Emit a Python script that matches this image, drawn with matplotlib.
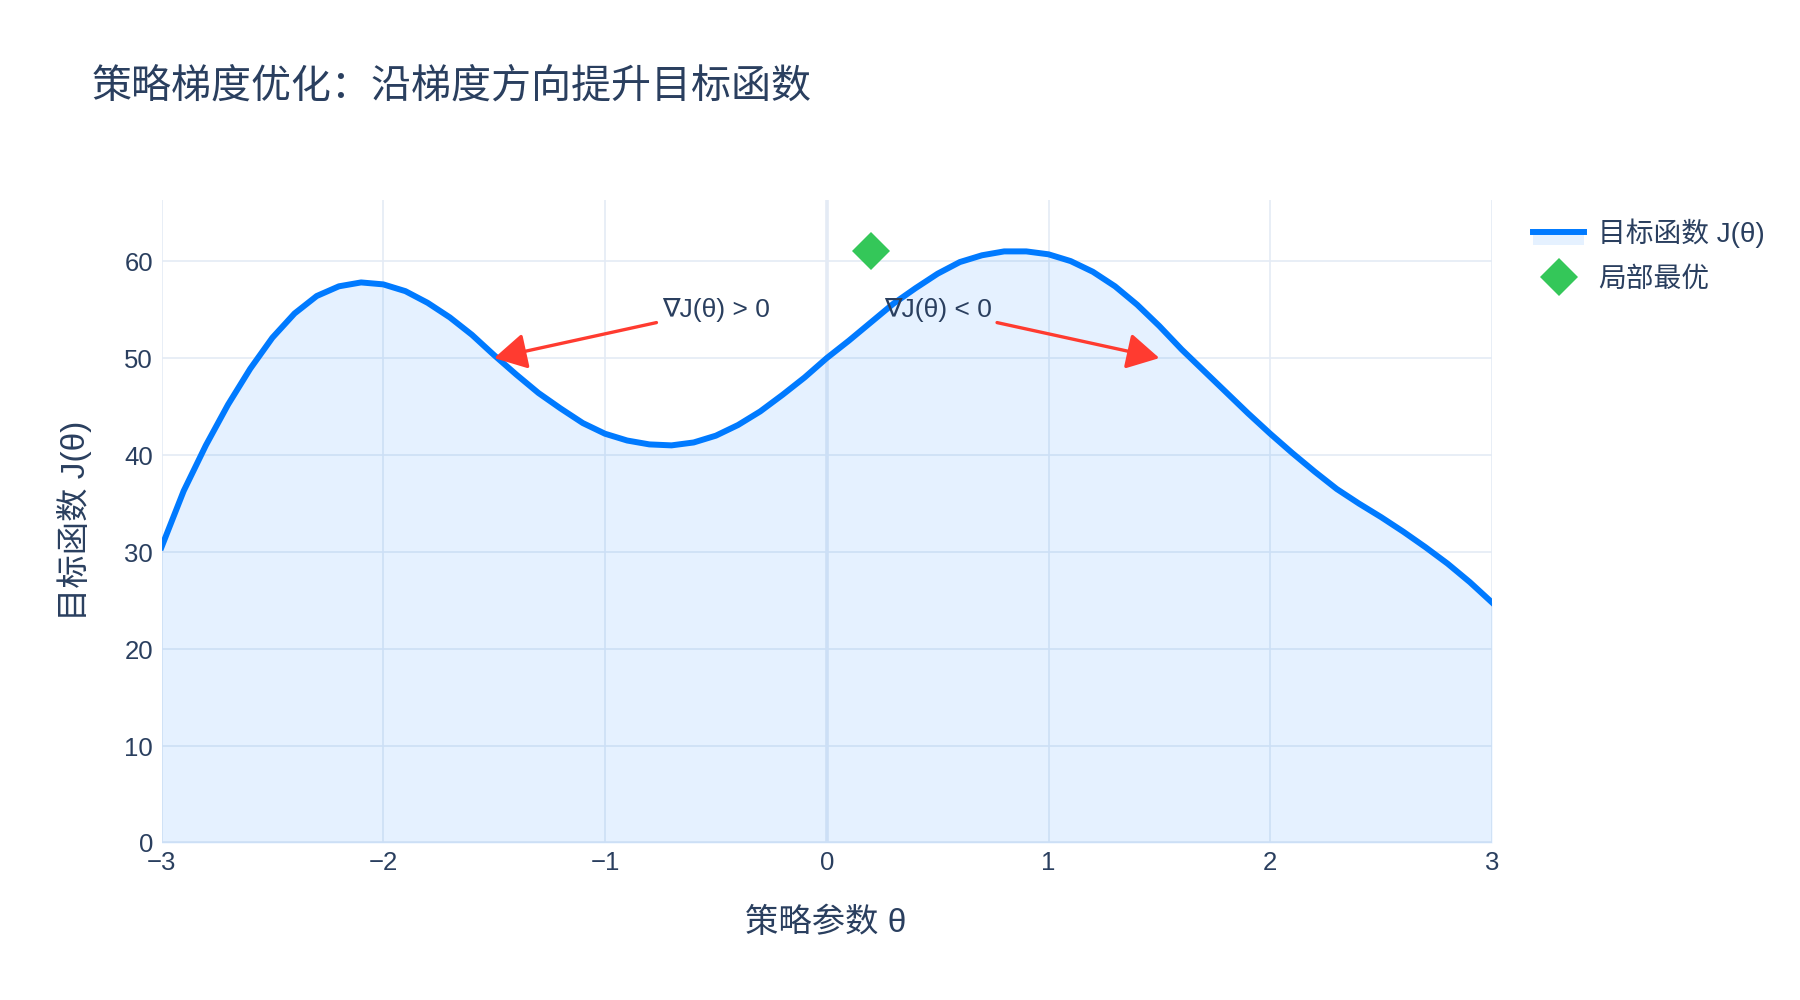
import matplotlib
matplotlib.use("Agg")
import matplotlib.pyplot as plt
from matplotlib.lines import Line2D
from matplotlib.patches import Rectangle
from matplotlib.legend_handler import HandlerBase
import numpy as np

plt.rcParams['font.family'] = ['Liberation Sans', 'Noto Sans CJK SC', 'DejaVu Sans']
plt.rcParams['axes.unicode_minus'] = True

# ---- data ----
theta = [-3.0, -2.9, -2.8, -2.7, -2.6, -2.5, -2.4, -2.3, -2.2, -2.1,
         -2.0, -1.9, -1.8, -1.7, -1.6, -1.5, -1.4, -1.3, -1.2, -1.1,
         -1.0, -0.9, -0.8, -0.7, -0.6, -0.5, -0.4, -0.3, -0.2, -0.1,
         0.0, 0.1, 0.2, 0.3, 0.4, 0.5, 0.6, 0.7, 0.8, 0.9,
         1.0, 1.1, 1.2, 1.3, 1.4, 1.5, 1.6, 1.7, 1.8, 1.9,
         2.0, 2.1, 2.2, 2.3, 2.4, 2.5, 2.6, 2.7, 2.8, 2.9, 3.0]
J = [30.5, 36.3, 41.0, 45.2, 48.9, 52.1, 54.6, 56.4, 57.4, 57.8,
     57.6, 56.9, 55.7, 54.2, 52.4, 50.3, 48.3, 46.4, 44.8, 43.3,
     42.2, 41.5, 41.1, 41.0, 41.3, 42.0, 43.1, 44.5, 46.2, 48.0,
     50.0, 51.8, 53.7, 55.6, 57.2, 58.7, 59.9, 60.6, 61.0, 61.0,
     60.7, 60.0, 58.9, 57.4, 55.5, 53.3, 50.9, 48.7, 46.5, 44.3,
     42.2, 40.2, 38.3, 36.5, 35.0, 33.6, 32.1, 30.5, 28.8, 26.9, 24.8]
opt_theta = [0.2]
opt_J = [61.0]
ann_texts = ['∇J(θ) > 0', '∇J(θ) < 0']
ann_xy = [(-1.5, 50), (1.5, 50)]
ann_text_xy = [(-0.5, 55), (0.5, 55)]
x_ticks = [-3, -2, -1, 0, 1, 2, 3]
y_ticks = [0, 10, 20, 30, 40, 50, 60]

title = '策略梯度优化：沿梯度方向提升目标函数'
x_label = '策略参数 θ'
y_label = '目标函数 J(θ)'
series_label = '目标函数 J(θ)'
opt_label = '局部最优'

TEXT = '#2a3f5f'
BLUE = '#007AFF'
GREEN = '#34C759'
RED = '#FF3B30'
GRID = '#E4EBF5'

fig = plt.figure(figsize=(18, 10), dpi=100)
ax = fig.add_axes([161.5/1800, 1-843/1000, (1492-161.5)/1800, (843-200)/1000])

ax.fill_between(theta, J, 0, color=BLUE, alpha=0.1, linewidth=0, zorder=2)
ln, = ax.plot(theta, J, color=BLUE, lw=4.3, zorder=3, solid_joinstyle='round')
mk, = ax.plot(opt_theta, opt_J, linestyle='none', marker='D', markersize=19,
              color=GREEN, markeredgewidth=0, zorder=4)

for txt, xy, xyt in zip(ann_texts, ann_xy, ann_text_xy):
    ax.annotate(txt, xy=xy, xytext=xyt, ha='center', va='center',
                fontsize=19, color=TEXT, zorder=5,
                family=['Liberation Sans', 'DejaVu Sans'],
                arrowprops=dict(arrowstyle='-|>,head_length=0.9,head_width=0.5',
                                mutation_scale=22, color=RED, lw=2.4,
                                shrinkA=2, shrinkB=0))

ax.set_xlim(-3, 3)
ax.set_ylim(0, 66.3)
ax.set_xticks(x_ticks)
ax.set_yticks(y_ticks)
ax.grid(True, color=GRID, lw=1.2, zorder=0)
ax.set_axisbelow(True)
ax.axvline(0, color=GRID, lw=2.6, zorder=1)
ax.axhline(0, color=GRID, lw=2.6, zorder=1)
for s in ax.spines.values():
    s.set_visible(False)
ax.tick_params(length=0, labelsize=18.5, labelcolor=TEXT, pad=6)
ax.set_xticklabels([('−' if t < 0 else '') + str(abs(t)) for t in x_ticks])

fig.text(92/1800, 1-87/1000, title, fontsize=28.8, color=TEXT, ha='left', va='center')
fig.text(826/1800, 1-923/1000, x_label, fontsize=24, color=TEXT, ha='center', va='center')
fig.text(75/1800, 1-521/1000, y_label, fontsize=24, color=TEXT, ha='center', va='center',
         rotation=90)


class LineFillHandler(HandlerBase):
    def create_artists(self, legend, orig_handle, xdescent, ydescent, width, height,
                       fontsize, trans):
        yc = height / 2 - ydescent
        rect = Rectangle((-xdescent, yc - height * 0.7), width, height * 0.7,
                         facecolor=BLUE, alpha=0.1, edgecolor='none', transform=trans)
        line = Line2D([-xdescent, -xdescent + width], [yc, yc], color=BLUE, lw=4.3,
                      transform=trans)
        return [rect, line]


leg = fig.legend([ln, mk], [series_label, opt_label], loc='upper left',
                 bbox_to_anchor=(1533/1800, 1-218/1000), frameon=False,
                 fontsize=20, handlelength=1.85, handletextpad=0.5,
                 labelspacing=0.7, borderaxespad=0, borderpad=0,
                 handler_map={ln: LineFillHandler()})
for t in leg.get_texts():
    t.set_color(TEXT)

fig.savefig('out.png', dpi=100, facecolor='white')
